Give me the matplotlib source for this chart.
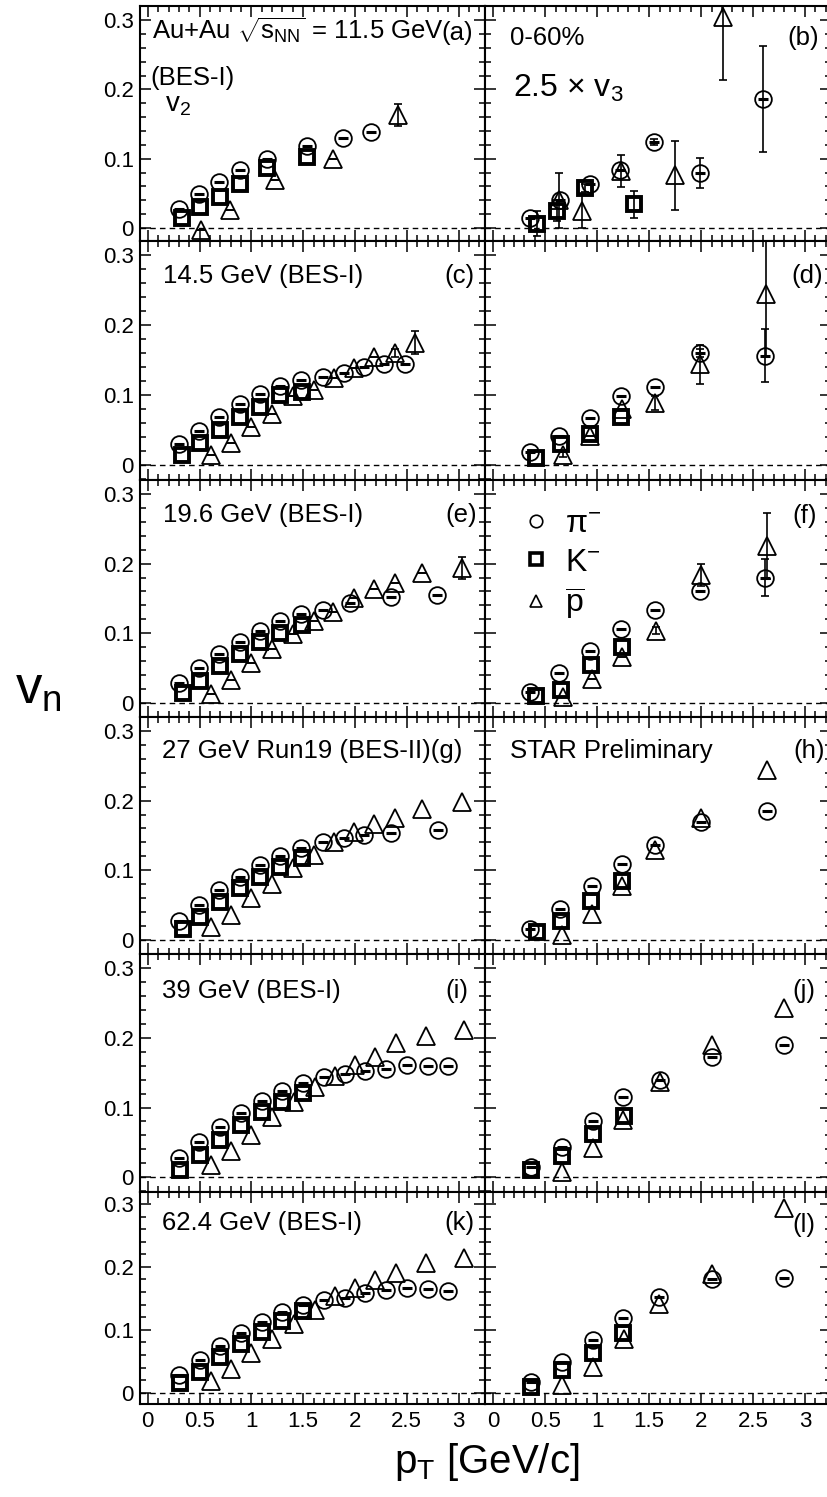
import matplotlib
matplotlib.use("Agg")
import matplotlib.pyplot as plt
from matplotlib.lines import Line2D
from matplotlib.ticker import MultipleLocator, FuncFormatter

plt.rcParams['font.family'] = ['Liberation Sans', 'DejaVu Sans']
plt.rcParams['mathtext.fontset'] = 'custom'
plt.rcParams['mathtext.rm'] = 'Liberation Sans'
plt.rcParams['mathtext.it'] = 'Liberation Sans:italic'
plt.rcParams['mathtext.default'] = 'regular'

###############################################################################
# v2 (left column) and 2.5*v3 (right column) vs pT
# (a) 11.5 GeV v2
a_pi_pt = [0.30, 0.49, 0.69, 0.89, 1.15, 1.54, 1.88, 2.15]
a_pi_v = [0.028, 0.049, 0.066, 0.083, 0.099, 0.119, 0.130, 0.139]
a_k_pt = [0.33, 0.50, 0.70, 0.89, 1.15, 1.54]
a_k_v = [0.014, 0.030, 0.045, 0.063, 0.086, 0.103]
a_p_pt = [0.51, 0.79, 1.23, 1.79, 2.42]
a_p_v = [-0.003, 0.026, 0.069, 0.100, 0.163]
a_p_err = [0, 0, 0, 0, 0.016]
# (b) 11.5 GeV 2.5*v3
b_pi_pt = [0.35, 0.64, 0.93, 1.22, 1.55, 1.99, 2.60]
b_pi_v = [0.015, 0.040, 0.064, 0.083, 0.124, 0.079, 0.186]
b_pi_err = [0, 0, 0, 0, 0.004, 0.022, 0.077]
b_k_pt = [0.42, 0.61, 0.88, 1.35]
b_k_v = [0.006, 0.025, 0.058, 0.034]
b_k_err = [0.018, 0.015, 0.006, 0.020]
b_p_pt = [0.63, 0.85, 1.23, 1.75, 2.21]
b_p_v = [0.040, 0.025, 0.082, 0.076, 0.304]
b_p_err = [0.040, 0.025, 0.023, 0.050, 0.090]
# (c) 14.5 GeV v2
c_pi_pt = [0.30, 0.495, 0.69, 0.89, 1.08, 1.28, 1.48, 1.69, 1.89, 2.09, 2.28, 2.48]
c_pi_v = [0.030, 0.049, 0.068, 0.087, 0.101, 0.113, 0.121, 0.126, 0.132, 0.140, 0.144, 0.144]
c_k_pt = [0.335, 0.505, 0.70, 0.89, 1.08, 1.28, 1.49]
c_k_v = [0.014, 0.031, 0.050, 0.069, 0.083, 0.100, 0.105]
c_p_pt = [0.61, 0.80, 1.00, 1.20, 1.40, 1.60, 1.80, 1.99, 2.18, 2.39, 2.58]
c_p_v = [0.014, 0.032, 0.055, 0.073, 0.098, 0.107, 0.125, 0.138, 0.154, 0.160, 0.175]
c_p_err = [0, 0, 0, 0, 0, 0, 0, 0, 0, 0.006, 0.016]
# (d) 14.5 GeV 2.5*v3
d_pi_pt = [0.35, 0.63, 0.93, 1.23, 1.56, 1.99, 2.61]
d_pi_v = [0.018, 0.041, 0.067, 0.098, 0.111, 0.160, 0.156]
d_pi_err = [0, 0, 0, 0, 0, 0.006, 0.038]
d_k_pt = [0.41, 0.65, 0.93, 1.23]
d_k_v = [0.010, 0.030, 0.045, 0.068]
d_p_pt = [0.67, 0.93, 1.24, 1.56, 1.99, 2.62]
d_p_v = [0.015, 0.041, 0.080, 0.089, 0.144, 0.244]
d_p_err = [0.004, 0, 0, 0.010, 0.028, 0.090]
# (e) 19.6 GeV v2
e_pi_pt = [0.30, 0.495, 0.69, 0.89, 1.08, 1.28, 1.48, 1.69, 1.95, 2.35, 2.79]
e_pi_v = [0.029, 0.050, 0.071, 0.088, 0.104, 0.117, 0.128, 0.134, 0.144, 0.152, 0.155]
e_k_pt = [0.34, 0.505, 0.70, 0.89, 1.08, 1.28, 1.49]
e_k_v = [0.015, 0.032, 0.053, 0.071, 0.088, 0.101, 0.112]
e_p_pt = [0.61, 0.80, 1.00, 1.20, 1.40, 1.60, 1.79, 1.99, 2.18, 2.39, 2.65, 3.03]
e_p_v = [0.013, 0.033, 0.058, 0.078, 0.099, 0.117, 0.130, 0.151, 0.163, 0.172, 0.186, 0.194]
e_p_err = [0, 0, 0, 0, 0, 0, 0, 0, 0, 0, 0, 0.016]
# (f) 19.6 GeV 2.5*v3
f_pi_pt = [0.35, 0.63, 0.93, 1.23, 1.56, 1.99, 2.61]
f_pi_v = [0.016, 0.043, 0.074, 0.106, 0.134, 0.161, 0.180]
f_pi_err = [0, 0, 0, 0, 0, 0, 0.026]
f_k_pt = [0.41, 0.65, 0.94, 1.24]
f_k_v = [0.010, 0.019, 0.055, 0.081]
f_p_pt = [0.67, 0.95, 1.24, 1.57, 2.00, 2.63]
f_p_v = [0.008, 0.034, 0.066, 0.104, 0.184, 0.225]
f_p_err = [0, 0, 0, 0.005, 0.016, 0.047]
# (g) 27 GeV v2
g_pi_pt = [0.30, 0.495, 0.69, 0.89, 1.08, 1.28, 1.48, 1.69, 1.89, 2.09, 2.35, 2.80]
g_pi_v = [0.027, 0.050, 0.072, 0.091, 0.108, 0.121, 0.132, 0.140, 0.146, 0.151, 0.154, 0.158]
g_k_pt = [0.34, 0.505, 0.70, 0.89, 1.08, 1.28, 1.49]
g_k_v = [0.016, 0.033, 0.054, 0.074, 0.091, 0.105, 0.118]
g_p_pt = [0.61, 0.80, 1.00, 1.20, 1.40, 1.60, 1.80, 1.99, 2.18, 2.39, 2.65, 3.03]
g_p_v = [0.018, 0.036, 0.060, 0.081, 0.103, 0.122, 0.140, 0.155, 0.167, 0.175, 0.188, 0.198]
# (h) 27 GeV 2.5*v3
h_pi_pt = [0.35, 0.64, 0.95, 1.24, 1.56, 2.00, 2.63]
h_pi_v = [0.016, 0.044, 0.077, 0.109, 0.137, 0.169, 0.185]
h_k_pt = [0.42, 0.65, 0.94, 1.24]
h_k_v = [0.011, 0.027, 0.056, 0.084]
h_p_pt = [0.66, 0.95, 1.24, 1.56, 2.00, 2.63]
h_p_v = [0.007, 0.038, 0.077, 0.129, 0.175, 0.244]
# (i) 39 GeV v2
i_pi_pt = [0.30, 0.495, 0.70, 0.90, 1.10, 1.30, 1.50, 1.70, 1.90, 2.10, 2.30, 2.50, 2.70, 2.90]
i_pi_v = [0.027, 0.050, 0.072, 0.092, 0.109, 0.124, 0.135, 0.143, 0.148, 0.152, 0.155, 0.161, 0.160, 0.160]
i_k_pt = [0.31, 0.505, 0.70, 0.90, 1.10, 1.30, 1.50]
i_k_v = [0.011, 0.032, 0.054, 0.075, 0.094, 0.108, 0.121]
i_p_pt = [0.61, 0.80, 1.00, 1.20, 1.41, 1.61, 1.81, 2.00, 2.19, 2.40, 2.69, 3.05]
i_p_v = [0.018, 0.038, 0.061, 0.087, 0.108, 0.130, 0.145, 0.161, 0.173, 0.192, 0.202, 0.211]
# (j) 39 GeV 2.5*v3
j_pi_pt = [0.36, 0.66, 0.96, 1.25, 1.60, 2.10, 2.80]
j_pi_v = [0.015, 0.044, 0.080, 0.115, 0.140, 0.172, 0.190]
j_k_pt = [0.36, 0.66, 0.96, 1.26]
j_k_v = [0.011, 0.031, 0.062, 0.088]
j_p_pt = [0.66, 0.96, 1.25, 1.60, 2.10, 2.80]
j_p_v = [0.008, 0.042, 0.082, 0.137, 0.190, 0.242]
# (k) 62.4 GeV v2
k_pi_pt = [0.30, 0.50, 0.70, 0.90, 1.10, 1.30, 1.50, 1.70, 1.90, 2.10, 2.30, 2.50, 2.70, 2.90]
k_pi_v = [0.028, 0.052, 0.075, 0.095, 0.113, 0.128, 0.140, 0.148, 0.151, 0.158, 0.163, 0.167, 0.165, 0.162]
k_k_pt = [0.31, 0.505, 0.70, 0.90, 1.10, 1.30, 1.50]
k_k_v = [0.015, 0.033, 0.056, 0.078, 0.097, 0.114, 0.130]
k_p_pt = [0.61, 0.80, 1.00, 1.20, 1.41, 1.61, 1.81, 2.00, 2.19, 2.40, 2.69, 3.05]
k_p_v = [0.019, 0.037, 0.063, 0.086, 0.110, 0.131, 0.153, 0.166, 0.179, 0.190, 0.206, 0.214]
# (l) 62.4 GeV 2.5*v3
l_pi_pt = [0.36, 0.66, 0.96, 1.25, 1.59, 2.10, 2.80]
l_pi_v = [0.017, 0.049, 0.084, 0.119, 0.152, 0.181, 0.183]
l_k_pt = [0.36, 0.66, 0.96, 1.25]
l_k_v = [0.009, 0.036, 0.063, 0.095]
l_p_pt = [0.66, 0.96, 1.26, 1.59, 2.10, 2.80]
l_p_v = [0.012, 0.041, 0.086, 0.141, 0.189, 0.293]

panel_tags = ['a', 'b', 'c', 'd', 'e', 'f', 'g', 'h', 'i', 'j', 'k', 'l']
x_tick_labels = ['0', '0.5', '1', '1.5', '2', '2.5', '3']
###############################################################################
W, H = 827, 1497
fig = plt.figure(figsize=(W / 100, H / 100), dpi=100)

col_px = [(139.5, 485.0), (485.0, 830.5)]
col_xlim = [(-0.08, 3.255), (-0.08, 3.245)]
row_px = [(6, 241), (241, 480), (480, 717), (717, 954), (954, 1192), (1192, 1404)]
row_zero = [228, 465, 703, 940, 1177.3, 1392.7]
row_scale = [693, 700, 697, 697, 698, 629]

def series(tag):
    g = globals()
    out = []
    for sp in ['pi', 'k', 'p']:
        out.append((g[tag + '_' + sp + '_pt'], g[tag + '_' + sp + '_v'],
                    g.get(tag + '_' + sp + '_err')))
    return out

def ylabfmt(v, pos):
    if abs(v) < 1e-9:
        return '0'
    return '%.1f' % v

axes = {}
for n, tag in enumerate(panel_tags):
    r, c = n // 2, n % 2
    x0, x1 = col_px[c]
    y0, y1 = row_px[r]
    ax = fig.add_axes([x0 / W, 1 - y1 / H, (x1 - x0) / W, (y1 - y0) / H])
    axes[tag] = ax
    ax.set_xlim(*col_xlim[c])
    ax.set_ylim((row_zero[r] - y1) / row_scale[r], (row_zero[r] - y0) / row_scale[r])
    ax.axhline(0, color='k', lw=1.0, ls=(0, (4, 3)), zorder=1)

    (pix, piy, pie), (kx, ky, ke), (px_, py_, pe) = series(tag)
    for xs, ys, es in [(pix, piy, pie), (kx, ky, ke), (px_, py_, pe)]:
        if es is not None:
            ax.errorbar(xs, ys, yerr=es, fmt='none', ecolor='k', elinewidth=1.2,
                        capsize=3, capthick=1.2, zorder=2)
    ax.plot(pix, piy, 'o', ms=12, mfc='none', mec='k', mew=1.3, zorder=3)
    ax.plot(pix, piy, '_', ms=7, mec='k', mew=2.2, zorder=3)
    ax.plot(kx, ky, 's', ms=10, mfc='none', mec='k', mew=2.8, zorder=4)
    ax.plot(px_, py_, '^', ms=13.5, mfc='none', mec='k', mew=1.3, zorder=5)

    for s in ax.spines.values():
        s.set_linewidth(1.5)
    ax.xaxis.set_major_locator(MultipleLocator(0.5))
    ax.xaxis.set_minor_locator(MultipleLocator(0.1))
    ax.yaxis.set_major_locator(MultipleLocator(0.1))
    ax.yaxis.set_minor_locator(MultipleLocator(0.02))
    ax.tick_params(which='both', direction='in', top=True, right=True,
                   labelsize=16, width=1.1)
    ax.tick_params(which='major', length=8)
    ax.tick_params(which='minor', length=4)
    if c == 0:
        ax.yaxis.set_major_formatter(FuncFormatter(ylabfmt))
        ax.tick_params(axis='y', pad=4)
    else:
        ax.tick_params(axis='y', labelleft=False)
    if r == 5:
        ax.set_xticks([0, 0.5, 1, 1.5, 2, 2.5, 3])
        ax.set_xticklabels(x_tick_labels)
        ax.tick_params(axis='x', pad=5)
    else:
        ax.tick_params(axis='x', labelbottom=False)

def ftext(x, y, s, size=18.5, ha='left'):
    fig.text(x / W, 1 - y / H, s, fontsize=size, ha=ha, va='baseline')

ftext(152, 40, r'Au+Au $\sqrt{s_{NN}}$ = 11.5 GeV')
ftext(473, 40, '(a)', ha='right')
ftext(150, 85, '(BES-I)')
ftext(165, 112, 'v$_{2}$', size=20)
ftext(510, 45, '0-60%')
ftext(513, 97, '2.5 \u00d7 v$_{3}$', size=23)
ftext(819, 45, '(b)', ha='right')
ftext(163, 283, '14.5 GeV (BES-I)')
ftext(475, 283, '(c)', ha='right')
ftext(823, 283, '(d)', ha='right')
ftext(163, 522, '19.6 GeV (BES-I)')
ftext(477, 522, '(e)', ha='right')
ftext(817, 523, '(f)', ha='right')
ftext(162, 758, '27 GeV Run19 (BES-II)(g)')
ftext(510, 758, 'STAR Preliminary')
ftext(825, 758, '(h)', ha='right')
ftext(162, 998, '39 GeV (BES-I)')
ftext(468, 998, '(i)', ha='right')
ftext(815, 998, '(j)', ha='right')
ftext(162, 1230, '62.4 GeV (BES-I)')
ftext(475, 1230, '(k)', ha='right')
ftext(815, 1232, '(l)', ha='right')

# axis titles
fig.text(38 / W, 1 - 690 / H, 'v$_{n}$', fontsize=38, ha='center', va='center')
fig.text(487 / W, 1 - 1462 / H, 'p$_{T}$ [GeV/c]', fontsize=29, ha='center', va='center')

# legend in (f)
handles = [Line2D([], [], marker='o', ls='none', mfc='none', mec='k', ms=9, mew=1.2),
           Line2D([], [], marker='s', ls='none', mfc='none', mec='k', ms=8, mew=2.6),
           Line2D([], [], marker='^', ls='none', mfc='none', mec='k', ms=9, mew=1.2)]
labels = ['\u03c0$^{-}$', 'K$^{-}$', r'$\overline{p}$']
axes['f'].legend(handles, labels, loc='upper left', bbox_to_anchor=(0.107, 0.875),
                 frameon=False, fontsize=23, handlelength=0.9, handletextpad=0.45,
                 labelspacing=0.25, borderpad=0, borderaxespad=0)

fig.savefig('out.png', dpi=100)
